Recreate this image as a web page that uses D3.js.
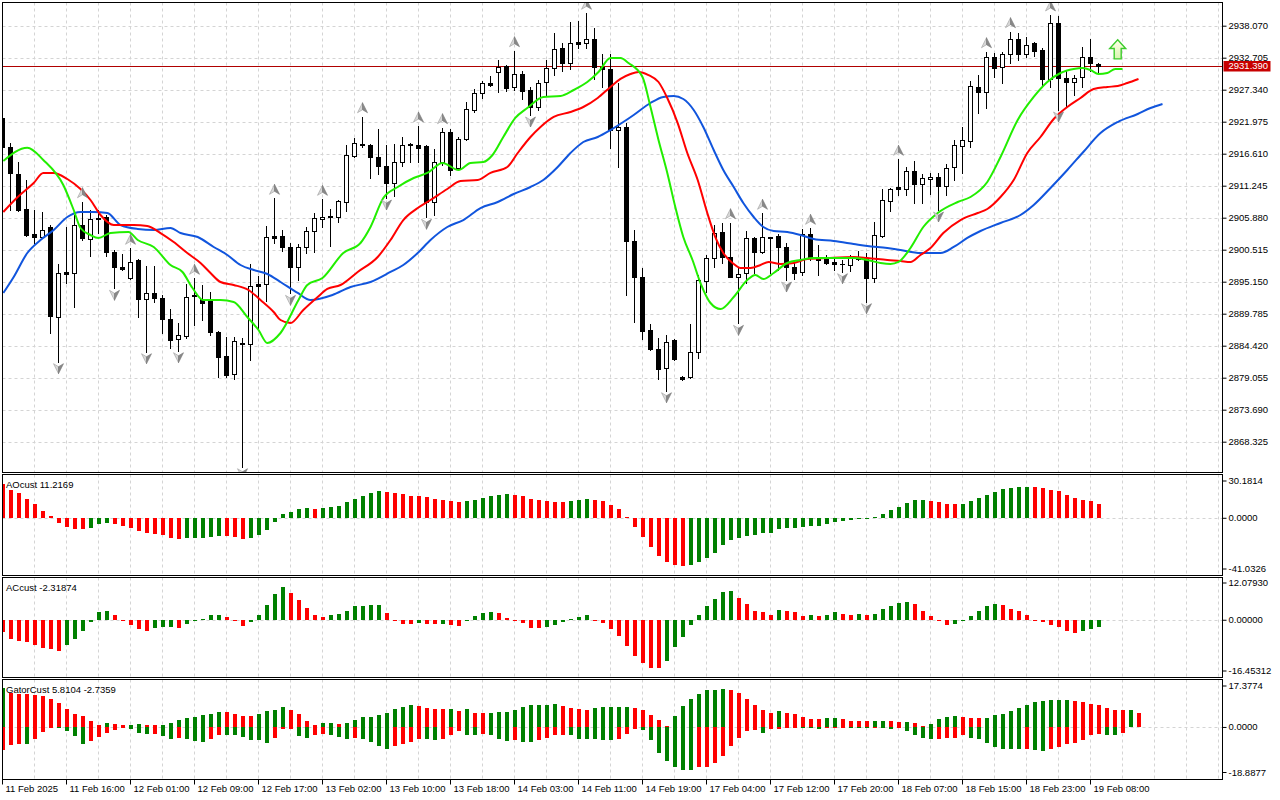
<!DOCTYPE html>
<html><head><meta charset="utf-8">
<script src="https://cdn.jsdelivr.net/npm/d3@7"></script>
<style>
html,body{margin:0;padding:0;background:#fff;overflow:hidden;}
svg{display:block;font-family:"Liberation Sans",Arial,sans-serif;font-size:9.5px;}
</style></head><body>
<svg id="c" width="1280" height="800"></svg>
<script>
// ---------------- DATA ----------------
const timeLabels = ["11 Feb 2025","11 Feb 16:00","12 Feb 01:00","12 Feb 09:00","12 Feb 17:00","13 Feb 02:00","13 Feb 10:00","13 Feb 18:00","14 Feb 03:00","14 Feb 11:00","14 Feb 19:00","17 Feb 04:00","17 Feb 12:00","17 Feb 20:00","18 Feb 07:00","18 Feb 15:00","18 Feb 23:00","19 Feb 08:00"];
const timeLabelIdx = [0,8,16,24,32,40,48,56,64,72,80,88,96,104,112,120,128,136];
const priceTicks = [2938.070,2932.705,2927.340,2921.975,2916.610,2911.245,2905.880,2900.515,2895.150,2889.785,2884.420,2879.055,2873.690,2868.325];
const lastPrice = 2931.390;

const open = [2922.60,2917.78,2913.21,2907.34,2903.15,2902.59,2904.37,2889.18,2896.86,2896.66,
2904.66,2902.26,2905.83,2906.05,2900.18,2897.56,2895.72,2898.79,2892.20,2893.30,
2892.37,2888.89,2885.49,2886.04,2892.92,2892.20,2891.91,2886.77,2882.69,2879.62,
2884.87,2884.65,2894.76,2894.71,2902.81,2902.81,2901.02,2897.66,2900.92,2903.70,
2905.71,2906.16,2905.95,2908.56,2916.28,2918.32,2918.07,2916.11,2914.55,2911.65,
2915.17,2917.99,2918.02,2917.91,2908.56,2915.17,2920.20,2914.16,2919.02,2923.94,
2926.74,2928.41,2930.26,2931.36,2927.74,2929.97,2927.29,2924.39,2928.58,2930.93,
2934.28,2931.77,2935.29,2935.12,2935.79,2931.20,2930.76,2920.58,2921.03,2901.97,
2895.89,2887.05,2883.81,2880.63,2885.37,2879.17,2879.12,2883.31,2895.32,2899.07,
2903.48,2899.24,2895.99,2896.56,2902.43,2900.18,2902.69,2902.81,2900.92,2897.56,
2896.73,2903.15,2899.07,2899.01,2898.51,2898.12,2897.90,2899.07,2899.07,2895.69,
2902.81,2908.73,2910.97,2910.64,2913.71,2911.48,2912.32,2912.66,2911.25,2914.33,
2917.95,2918.79,2927.74,2927.01,2932.77,2931.10,2933.28,2935.79,2933.28,2935.22,
2934.00,2929.14,2938.47,2929.25,2928.68,2929.41,2932.87,2931.60];
const high = [2923.60,2918.35,2915.27,2912.20,2907.17,2906.84,2904.66,2898.12,2904.37,2906.33,
2908.56,2907.17,2907.17,2906.33,2900.46,2899.79,2900.75,2898.95,2897.78,2897.78,
2892.92,2890.52,2888.27,2894.76,2895.72,2894.60,2893.47,2886.90,2885.83,2885.88,
2885.71,2898.12,2896.10,2904.49,2909.13,2903.82,2901.69,2901.47,2904.27,2906.62,
2908.96,2907.29,2908.80,2918.07,2919.19,2922.81,2918.24,2920.70,2918.07,2918.24,
2919.46,2918.45,2921.25,2918.00,2917.40,2920.97,2920.75,2919.36,2925.33,2927.41,
2928.85,2929.64,2932.32,2931.50,2933.88,2930.48,2927.74,2928.97,2932.32,2936.80,
2935.22,2938.74,2938.91,2940.15,2937.64,2933.28,2933.28,2928.51,2921.70,2903.82,
2897.40,2888.06,2885.77,2886.21,2885.54,2879.34,2888.06,2896.27,2899.63,2904.66,
2904.94,2905.04,2897.66,2903.70,2902.69,2906.62,2902.70,2903.15,2901.58,2898.23,
2903.94,2904.10,2901.30,2899.63,2899.07,2898.79,2899.63,2900.35,2899.91,2905.21,
2910.64,2910.86,2915.67,2914.43,2915.39,2913.21,2913.32,2913.43,2914.88,2918.91,
2921.14,2928.85,2929.80,2933.71,2933.44,2933.61,2937.07,2936.80,2936.23,2935.39,
2934.28,2939.87,2939.70,2930.53,2929.80,2934.45,2935.79,2931.87];
const low = [2917.23,2907.17,2907.00,2902.81,2901.69,2902.48,2886.55,2881.74,2894.98,2890.91,
2902.20,2899.51,2903.31,2899.46,2894.04,2897.10,2895.60,2889.28,2883.41,2891.80,
2886.60,2883.98,2883.58,2885.66,2887.89,2888.73,2886.21,2879.22,2879.22,2878.78,
2864.13,2882.02,2887.05,2891.96,2901.69,2900.35,2893.20,2895.43,2900.01,2900.18,
2904.37,2901.13,2905.21,2907.05,2916.10,2917.78,2912.49,2913.21,2909.18,2909.50,
2914.55,2915.27,2915.27,2905.95,2906.33,2914.72,2913.04,2914.05,2918.90,2923.65,
2925.90,2927.96,2927.01,2927.18,2927.29,2925.73,2923.10,2923.94,2926.45,2929.80,
2930.53,2930.76,2934.28,2934.28,2929.08,2927.74,2917.51,2914.33,2892.92,2888.44,
2885.49,2883.70,2878.78,2876.87,2882.02,2878.75,2879.00,2882.29,2893.47,2897.66,
2898.34,2895.90,2888.17,2894.98,2896.56,2899.91,2896.56,2897.11,2895.43,2895.60,
2896.27,2898.79,2896.27,2898.17,2897.11,2896.83,2897.00,2898.79,2891.80,2895.15,
2902.59,2907.05,2909.69,2909.69,2908.40,2908.29,2909.85,2907.17,2909.69,2912.20,
2913.32,2917.68,2923.49,2924.22,2929.52,2928.41,2931.86,2932.32,2932.87,2932.99,
2928.13,2927.85,2923.94,2924.61,2926.45,2927.74,2930.53,2930.36];
const close = [2917.73,2913.32,2907.17,2902.98,2902.59,2903.82,2889.40,2896.56,2896.52,2904.66,
2902.43,2905.61,2905.66,2900.18,2897.56,2897.23,2898.40,2892.20,2893.20,2892.37,
2888.84,2885.37,2886.16,2892.63,2892.67,2891.63,2886.77,2882.57,2879.51,2885.26,
2884.70,2894.43,2894.43,2902.69,2902.55,2900.92,2897.66,2900.92,2903.70,2905.78,
2906.05,2905.92,2908.68,2916.39,2918.35,2918.07,2916.01,2914.55,2911.65,2915.17,
2918.07,2918.16,2917.61,2908.56,2915.17,2920.20,2913.88,2919.02,2924.05,2926.74,
2928.41,2928.08,2931.10,2927.68,2929.97,2927.18,2924.39,2928.51,2930.93,2934.11,
2931.77,2935.22,2935.05,2935.79,2931.10,2930.81,2920.58,2921.03,2901.92,2895.89,
2886.93,2883.81,2880.46,2885.09,2882.19,2878.92,2883.31,2895.43,2899.07,2903.36,
2899.24,2895.99,2896.39,2902.43,2900.18,2902.59,2902.52,2900.92,2897.56,2896.66,
2903.15,2899.07,2898.79,2898.34,2898.12,2898.04,2899.07,2898.99,2895.69,2902.98,
2908.85,2910.69,2910.64,2913.71,2911.48,2912.49,2912.66,2911.25,2914.16,2918.07,
2918.91,2927.96,2927.01,2932.77,2931.03,2933.28,2935.79,2933.33,2934.84,2933.88,
2929.14,2938.47,2929.25,2928.68,2929.25,2932.87,2931.77,2931.39];

// Alligator lines: [bar index, price]
const lips = [[0.1,2915.39],[3.1,2917.61],[5.1,2915.56],[7.6,2911.36],[8.9,2907.17],[9.75,2904.15],[11,2902.98],[12,2902.48],[13.5,2903.31],[15.75,2903.48],[16.9,2902.14],[18.9,2900.97],[21,2897.95],[22.5,2896.78],[23.75,2894.09],[25.1,2892.08],[27.25,2892.08],[28.9,2891.75],[30.6,2889.23],[32,2887.05],[33.1,2884.87],[34.75,2886.55],[37,2892.08],[38.1,2894.6],[40,2895.77],[42.6,2899.96],[44.75,2901.64],[46,2904.32],[47.6,2909.18],[49.4,2911.03],[51.4,2912.54],[53.1,2913.38],[55,2915.06],[57,2913.88],[58.5,2915.06],[60.1,2915.22],[61.25,2916.39],[62.6,2919.41],[64.1,2922.6],[65.6,2924.27],[67.6,2926.12],[69.75,2926.28],[71.4,2927.29],[73.1,2928.63],[74.5,2930.31],[76,2932.66],[77.25,2932.66],[78.25,2931.82],[80,2929.47],[81,2924.44],[82,2918.91],[83.1,2913.38],[84.1,2907.67],[85.1,2902.64],[86.25,2898.79],[87.25,2894.93],[88.5,2891.58],[89.75,2890.57],[91.4,2892.58],[93.1,2895.43],[94.1,2896.27],[95.1,2895.6],[96.4,2896.61],[98.1,2898.29],[99.75,2898.79],[101.4,2899.13],[103.9,2899.13],[106.4,2899.13],[108.1,2898.79],[109.75,2898.29],[111,2898.12],[112,2898.46],[113.5,2900.8],[115.1,2904.32],[116.9,2906.67],[119.4,2908.51],[121,2909.35],[123.1,2911.87],[124.75,2916.06],[126.9,2922.26],[128.9,2926.12],[130.6,2928.63],[132.25,2930.14],[133.9,2930.81],[135,2930.98],[136,2930.64],[137,2929.97],[138.1,2930.14],[139.1,2930.81],[140,2930.81]];
const teeth = [[0.1,2906.84],[1.9,2909.35],[3.9,2911.7],[5.1,2913.38],[6.4,2913.38],[8.1,2912.37],[9.75,2910.69],[11,2908.85],[12.25,2906.33],[13.9,2904.66],[16.4,2904.66],[18.1,2904.49],[19.75,2903.31],[21.4,2901.8],[23.1,2899.96],[24.75,2898.29],[26,2896.61],[27.25,2895.1],[28.9,2894.6],[30.75,2893.76],[32.25,2892.08],[33.9,2890.07],[34.75,2888.73],[36,2888.22],[37.6,2890.4],[39.4,2892.58],[40.6,2893.93],[42.25,2894.6],[44.4,2896.78],[46.9,2899.29],[48.5,2902.14],[50.1,2905.49],[51.9,2907.5],[53.5,2908.85],[55.6,2910.69],[57.25,2912.03],[59.4,2912.2],[61,2913.38],[63.1,2914.38],[64.4,2916.73],[66,2919.41],[67.25,2921.09],[68.9,2922.77],[71,2923.61],[72.6,2924.44],[74.4,2925.95],[76,2927.8],[77.25,2929.14],[78.5,2929.97],[79.5,2930.31],[80.75,2929.8],[82,2928.63],[83.1,2925.95],[84.4,2921.75],[85.6,2916.73],[86.9,2912.2],[88.1,2906.67],[89.1,2902.64],[90.1,2899.96],[91.25,2898.29],[92.25,2897.45],[93.5,2897.45],[94.75,2897.95],[95.75,2898.46],[97.25,2898.12],[98.9,2898.29],[100.6,2898.96],[103.1,2899.13],[106.4,2899.29],[108.1,2899.13],[110.6,2898.79],[112.25,2898.62],[113.5,2898.46],[114.75,2899.63],[116,2900.8],[117.6,2903.31],[119.75,2905.49],[121.9,2906.67],[123.1,2907.34],[124.75,2909.35],[126.4,2912.2],[128.1,2916.73],[129.75,2919.41],[131.4,2922.43],[133.1,2924.44],[134.75,2925.95],[136.4,2927.46],[138.1,2927.8],[139.4,2927.96],[140.6,2928.46],[142,2929.14]];
const jaw = [[0.1,2893.26],[1.4,2895.94],[3.1,2899.96],[4.75,2902.14],[6.4,2903.82],[8.1,2906.0],[9.75,2906.84],[11.4,2906.84],[13.1,2906.67],[14.75,2904.66],[16.9,2903.99],[18.9,2903.82],[21,2904.15],[22.25,2903.31],[24.4,2902.64],[26.4,2900.97],[28.1,2899.63],[29.75,2897.95],[31.4,2897.11],[33.1,2896.44],[34.75,2895.1],[36.9,2893.26],[38.5,2892.08],[41.25,2892.92],[43.5,2894.26],[46,2895.1],[48.5,2896.78],[50.1,2897.95],[51.9,2899.96],[53.5,2902.14],[55.6,2904.32],[57.6,2905.49],[59.75,2907.5],[61.9,2908.51],[63.9,2909.85],[66,2911.03],[67.6,2912.2],[69.4,2914.38],[71,2916.73],[72.6,2918.57],[74.4,2919.41],[76,2920.58],[77.6,2921.92],[78.9,2923.1],[81,2925.11],[82.6,2926.12],[83.9,2926.28],[85.1,2925.78],[86.4,2923.94],[87.6,2921.09],[88.9,2917.23],[90.1,2913.88],[91.4,2911.03],[92.6,2908.35],[93.9,2906.0],[95.1,2904.32],[96.4,2903.65],[98.1,2903.48],[99.75,2902.98],[101.4,2902.31],[103.9,2901.97],[106.4,2901.47],[108.1,2901.13],[110.6,2900.8],[112.25,2900.46],[114.75,2899.96],[117.25,2899.96],[118.9,2900.97],[120.6,2902.48],[122.25,2903.65],[124.75,2905.0],[127.25,2906.33],[128.9,2908.01],[131,2910.86],[133.1,2913.88],[135.1,2916.9],[137.25,2920.07],[139.4,2921.92],[141.9,2923.27],[143.5,2924.27],[145,2924.94]];

const fractalUp = [10,16,24,34,40,45,52,55,64,73,91,95,101,112,123,126,131];
const fractalDown = [7,14,18,22,30,36,48,53,66,83,92,98,105,108,117,132];
const signalArrow = {idx:139.4, top:2935.7, bottom:2932.5};

const aoValues = [27.0,22.1,19.7,15.6,10.8,5.9,1.1,-4.6,-7.3,-9.2,
-9.4,-8.4,-5.4,-4.6,-5.4,-7.0,-8.1,-10.3,-12.7,-12.9,
-14.3,-16.2,-17.5,-16.7,-16.6,-16.2,-15.4,-14.6,-14.7,-15.6,
-17.5,-16.2,-14.3,-10.0,-3.8,2.7,4.6,7.0,7.6,7.0,
7.8,8.4,9.7,12.4,15.1,17.3,19.7,21.3,21.0,19.7,
18.9,17.8,17.5,16.5,15.6,14.8,13.2,12.7,13.5,14.8,
15.9,17.3,18.6,18.9,18.8,17.3,15.6,14.6,13.2,13.1,
13.0,13.3,14.8,14.9,14.0,13.2,10.0,7.0,0.5,-7.6,
-15.6,-23.7,-31.0,-36.1,-37.8,-39.4,-38.3,-35.9,-32.9,-28.1,
-22.4,-18.3,-16.7,-15.1,-14.3,-12.7,-12.6,-9.4,-8.6,-8.1,
-7.6,-7.0,-6.5,-5.4,-3.8,-2.7,-1.6,-0.8,-0.3,0.8,
3.2,6.5,8.9,12.1,14.6,14.7,13.8,13.0,11.3,11.2,
11.4,13.2,16.2,18.6,21.0,23.5,24.3,25.1,25.2,25.0,
24.3,22.7,21.3,18.6,16.2,14.8,13.8,11.22];
const acValues = [-3.9,-6.3,-6.8,-7.2,-8.1,-9.2,-9.5,-10.0,-8.1,-6.2,
-3.6,-0.8,2.4,2.8,1.7,-0.3,-1.7,-3.0,-3.6,-2.8,
-2.4,-2.3,-2.8,-1.3,-0.4,0.3,1.4,1.7,0.8,-0.2,
-2.0,-0.6,1.5,4.9,8.5,10.7,8.8,6.5,3.8,1.4,
1.0,1.5,1.9,3.0,4.3,4.6,4.7,4.8,2.1,-0.1,
-1.3,-1.5,-1.2,-1.4,-1.5,-1.45,-1.7,-2.1,-0.4,1.3,
2.1,2.6,2.2,0.6,-0.2,-1.0,-2.6,-2.8,-2.4,-1.7,
-0.6,0.1,1.0,1.4,-0.1,-1.0,-3.1,-5.3,-8.6,-11.8,
-14.1,-15.6,-15.7,-13.5,-8.9,-5.6,-1.7,1.4,4.6,6.8,
9.1,9.4,7.2,5.2,3.0,2.4,1.7,3.3,2.7,2.4,
1.3,1.4,1.3,1.7,2.4,1.9,1.7,2.0,1.7,2.0,
3.6,4.6,5.3,5.9,5.2,3.0,1.1,-0.4,-1.7,-1.4,
-0.1,1.1,3.0,4.6,5.2,4.9,3.6,2.8,1.4,0.05,
-0.6,-1.7,-2.4,-3.6,-4.4,-3.5,-3.0,-2.32];
const gatorUpper = [16.2,14.1,14.0,13.9,13.4,13.1,11.7,10.0,7.5,5.6,
4.5,2.4,0.7,1.5,1.2,0.7,0.75,1.4,1.0,0.7,
1.0,1.8,3.0,3.8,4.1,4.9,5.3,6.2,6.1,5.3,
4.5,4.4,5.3,6.6,7.2,8.3,7.0,5.6,2.5,0.7,
1.8,1.85,1.4,1.8,3.1,4.1,4.15,4.9,5.8,7.5,
8.4,9.1,8.7,8.0,7.5,7.4,7.7,6.6,7.5,5.9,
5.85,5.9,6.3,6.35,7.3,8.3,9.1,9.15,9.4,9.6,
8.9,7.9,7.4,7.2,7.9,8.2,8.4,8.45,8.5,7.9,
6.9,4.9,3.0,0.4,4.6,8.9,11.7,13.8,15.5,15.6,
15.9,15.5,14.2,11.7,9.1,7.2,6.0,6.7,6.0,5.6,
4.1,3.5,3.5,3.6,3.65,3.3,2.7,2.65,2.6,2.65,
2.7,2.3,2.1,2.15,1.6,0.4,1.1,3.2,4.1,4.4,
4.1,3.9,3.7,3.8,4.9,5.6,6.7,7.9,9.3,10.3,
10.8,11.2,11.25,11.3,10.7,10.3,9.8,9.1,7.9,7.2,
7.0,7.1,5.81];
const gatorLower = [-9.8,-7.7,-7.3,-7.35,-5.2,-2.1,-0.3,-0.5,-1.7,-4.0,
-7.3,-5.9,-4.4,-2.5,-1.1,-0.6,-1.0,-2.5,-3.1,-2.8,
-4.0,-4.9,-4.6,-4.9,-6.0,-6.3,-4.9,-3.3,-3.4,-3.5,
-4.2,-5.3,-5.4,-6.8,-4.6,-1.0,-0.7,-3.9,-4.6,-3.5,
-2.8,-3.2,-4.2,-4.9,-4.6,-4.95,-6.3,-8.0,-9.1,-8.0,
-7.3,-6.3,-5.2,-5.25,-5.3,-5.2,-3.5,-1.8,-3.2,-3.25,
-2.8,-3.2,-4.9,-6.0,-5.3,-6.3,-6.35,-5.6,-4.5,-3.5,
-3.2,-3.5,-4.9,-5.2,-5.25,-5.3,-5.6,-4.9,-2.8,-1.0,
-1.3,-5.6,-10.8,-14.3,-16.7,-18.0,-18.1,-16.7,-16.6,-15.0,
-12.2,-8.0,-4.6,-1.7,-1.4,-2.7,-1.0,-0.7,-0.3,-0.2,
-0.3,-0.4,-0.7,-0.3,-0.2,-0.1,-0.2,-0.3,-0.5,-0.2,
-0.3,-0.7,-0.5,-1.8,-3.5,-4.8,-5.2,-4.9,-4.6,-4.5,
-3.5,-4.5,-4.9,-6.6,-8.3,-9.1,-9.4,-9.45,-9.4,-9.7,
-10.1,-9.1,-8.3,-7.3,-6.6,-5.6,-3.5,-3.1,-3.5,-3.55,
-2.74];

const aoTicks = [30.1814, 0, -41.0326];
const acTicks = [12.0793, 0, -16.45312];
const gatorTicks = [17.3774, 0, -18.8877];
const paneTitles = ["AOcust 11.2169", "ACcust -2.31874", "GatorCust 5.8104 -2.7359"];

// ---------------- LAYOUT ----------------
const svg = d3.select("#c");
const X0 = 2.5, X1 = 1222.5;
const panes = {main:[2.5,472.5], ao:[474.5,575.5], ac:[577.5,677.5], gator:[679.5,779.5]};
const GREEN = "#008000", RED = "#ff0000", GRID = "#d4d4d4";
const fmtLoc = d3.formatLocale({decimal:".", thousands:"", grouping:[3], currency:["",""], minus:"-"});

const x = d3.scaleLinear().domain([0,1]).range([2,10]);
const y = d3.scaleLinear().domain([2868.325, 2938.07]).range([441.7, 25.7]);
const yAO = d3.scaleLinear().domain([-41.0326, 30.1814]).range([568.5, 480.5]);
const yAC = d3.scaleLinear().domain([-16.45312, 12.0793]).range([670.5, 582.5]);
const yG = d3.scaleLinear().domain([-18.8877, 17.3774]).range([772, 685.5]);

const defs = svg.append("defs");
Object.entries(panes).forEach(([k,[t,b]])=>{
  defs.append("clipPath").attr("id","clip-"+k).append("rect")
    .attr("x",X0+0.5).attr("y",t+0.5).attr("width",X1-X0-1).attr("height",b-t-1);
});
const sg = defs.append("linearGradient").attr("id","sigGrad").attr("x1",0).attr("y1",0).attr("x2",0).attr("y2",1);
sg.append("stop").attr("offset","0%").attr("stop-color","#ffffe8");
sg.append("stop").attr("offset","100%").attr("stop-color","#d8f5b0");

// grid
const gridIdx = d3.range(4, 153, 4);
Object.entries(panes).forEach(([k,[t,b]])=>{
  svg.append("g").selectAll("line").data(gridIdx).join("line")
    .attr("x1",d=>x(d)+0.5).attr("x2",d=>x(d)+0.5).attr("y1",t).attr("y2",b)
    .attr("stroke",GRID).attr("stroke-dasharray","3,3");
});
svg.append("g").selectAll("line").data(priceTicks).join("line")
  .attr("x1",X0).attr("x2",X1).attr("y1",d=>Math.round(y(d))+0.5).attr("y2",d=>Math.round(y(d))+0.5)
  .attr("stroke",GRID).attr("stroke-dasharray","3,3");
[[yAO],[yAC],[yG]].forEach(([s])=>{
  svg.append("line").attr("x1",X0).attr("x2",X1)
    .attr("y1",Math.round(s(0))+0.5).attr("y2",Math.round(s(0))+0.5)
    .attr("stroke",GRID).attr("stroke-dasharray","3,3");
});

// ---------------- MAIN PANE ----------------
const gMain = svg.append("g").attr("clip-path","url(#clip-main)");
// current price line
gMain.append("line").attr("x1",X0).attr("x2",X1)
  .attr("y1",Math.round(y(lastPrice))+0.5).attr("y2",Math.round(y(lastPrice))+0.5)
  .attr("stroke","#b00000").attr("stroke-width",1);

const candles = d3.range(open.length).map(i=>({i,o:open[i],h:high[i],l:low[i],c:close[i]}));
const cg = gMain.append("g").attr("shape-rendering","crispEdges");
cg.selectAll("line").data(candles).join("line")
  .attr("x1",d=>x(d.i)+0.5).attr("x2",d=>x(d.i)+0.5)
  .attr("y1",d=>Math.round(y(d.h))).attr("y2",d=>Math.round(y(d.l))+1)
  .attr("stroke","#000");
cg.selectAll("rect").data(candles).join("rect")
  .attr("x",d=>x(d.i)-1.5).attr("width",4)
  .attr("y",d=>Math.round(y(Math.max(d.o,d.c)))+0.5)
  .attr("height",d=>Math.max(0.01, Math.round(y(Math.min(d.o,d.c)))-Math.round(y(Math.max(d.o,d.c)))))
  .attr("fill",d=>d.c>d.o?"#fff":"#000").attr("stroke","#000");

// alligator
const line = d3.line().x(d=>x(d[0])+0.5).y(d=>y(d[1])).curve(d3.curveMonotoneX);
[[jaw,"#1155dd"],[teeth,"#ff0000"],[lips,"#22ee00"]].forEach(([data,col])=>{
  gMain.append("path").datum(data).attr("d",line).attr("fill","none")
    .attr("stroke",col).attr("stroke-width",2).attr("stroke-linejoin","round");
});

// fractals
function arrow(g, cx, cy, dir){
  const s = dir; // 1 up, -1 down
  g.append("path").attr("d",`M${cx},${cy-5*s}L${cx-5},${cy+5*s}L${cx},${cy+2*s}Z`)
    .attr("fill","#d8d8d8").attr("stroke","#9a9a9a").attr("stroke-width",0.6);
  g.append("path").attr("d",`M${cx},${cy-5*s}L${cx+5},${cy+5*s}L${cx},${cy+2*s}Z`)
    .attr("fill","#888").attr("stroke","#777").attr("stroke-width",0.6);
}
const fg = gMain.append("g");
fractalUp.forEach(i=>arrow(fg, x(i)+0.5, y(high[i])-9, 1));
fractalDown.forEach(i=>arrow(fg, x(i)+0.5, y(low[i])+7, -1));

// signal arrow
{
  const cx = x(signalArrow.idx)+0.5, t = y(signalArrow.top), b = y(signalArrow.bottom);
  const hb = t + (b-t)*0.45;
  gMain.append("path")
    .attr("d",`M${cx},${t}L${cx+8},${hb}L${cx+3.5},${hb}L${cx+3.5},${b}L${cx-3.5},${b}L${cx-3.5},${hb}L${cx-8},${hb}Z`)
    .attr("fill","url(#sigGrad)").attr("stroke","#3ccc2c").attr("stroke-width",1.4).attr("stroke-linejoin","miter");
}

// ---------------- SUB PANES ----------------
function histo(pane, scale, values, firstColor, useAbs){
  const g = svg.append("g").attr("clip-path","url(#clip-"+pane+")").attr("shape-rendering","crispEdges");
  const data = values.map((v,i)=>{
    let col;
    if(i===0) col = firstColor;
    else { const a = useAbs?Math.abs(v):v, p = useAbs?Math.abs(values[i-1]):values[i-1]; col = a>p?GREEN:RED; }
    return {i,v,col};
  });
  g.selectAll("rect").data(data).join("rect")
    .attr("x",d=>x(d.i)-1.5).attr("width",4)
    .attr("y",d=>Math.min(scale(d.v),scale(0)))
    .attr("height",d=>Math.max(1,Math.abs(scale(d.v)-scale(0))))
    .attr("fill",d=>d.col);
}
histo("ao", yAO, aoValues, RED, false);
histo("ac", yAC, acValues, RED, false);
histo("gator", yG, gatorUpper, GREEN, false);
histo("gator", yG, gatorLower, RED, true);

// pane titles
[["ao",0],["ac",1],["gator",2]].forEach(([k,i])=>{
  svg.append("text").attr("x",6).attr("y",panes[k][0]+13).attr("fill","#000").text(paneTitles[i]);
});

// pane borders
Object.values(panes).forEach(([t,b])=>{
  svg.append("rect").attr("x",X0).attr("y",t).attr("width",X1-X0).attr("height",b-t)
    .attr("fill","none").attr("stroke","#000").attr("stroke-width",1);
});

// ---------------- AXES ----------------
function styleAxis(g){
  g.attr("font-size",9.5).attr("font-family","Liberation Sans, Arial, sans-serif");
  g.select(".domain").remove();
  g.selectAll("text").attr("fill","#000");
  g.selectAll("line").attr("stroke","#000");
}
svg.append("g").attr("transform",`translate(${X1},0)`)
  .call(d3.axisRight(y).tickValues(priceTicks).tickFormat(fmtLoc.format(".3f")).tickSize(4).tickPadding(2))
  .call(styleAxis);
svg.append("g").attr("transform",`translate(${X1},0)`)
  .call(d3.axisRight(yAO).tickValues(aoTicks).tickFormat(fmtLoc.format(".4f")).tickSize(4).tickPadding(2))
  .call(styleAxis);
svg.append("g").attr("transform",`translate(${X1},0)`)
  .call(d3.axisRight(yAC).tickValues(acTicks).tickFormat(fmtLoc.format(".5f")).tickSize(4).tickPadding(2))
  .call(styleAxis);
svg.append("g").attr("transform",`translate(${X1},0)`)
  .call(d3.axisRight(yG).tickValues(gatorTicks).tickFormat(fmtLoc.format(".4f")).tickSize(4).tickPadding(2))
  .call(styleAxis);

// last price tag
{
  const py = y(lastPrice);
  svg.append("rect").attr("x",X1+1).attr("y",Math.round(py)-5).attr("width",47).attr("height",10.5).attr("fill","#c80000");
  svg.append("text").attr("x",X1+6).attr("y",py).attr("dy","0.34em").attr("fill","#fff").attr("font-size",9.5)
    .text(fmtLoc.format(".3f")(lastPrice));
}

// time axis
const xa = svg.append("g").attr("transform",`translate(0,${panes.gator[1]})`)
  .call(d3.axisBottom(x).tickValues(timeLabelIdx).tickFormat((d,i)=>timeLabels[i]).tickSize(5).tickPadding(1))
  .call(styleAxis);
xa.selectAll("text").attr("text-anchor","start").attr("x",3);
</script></body></html>
